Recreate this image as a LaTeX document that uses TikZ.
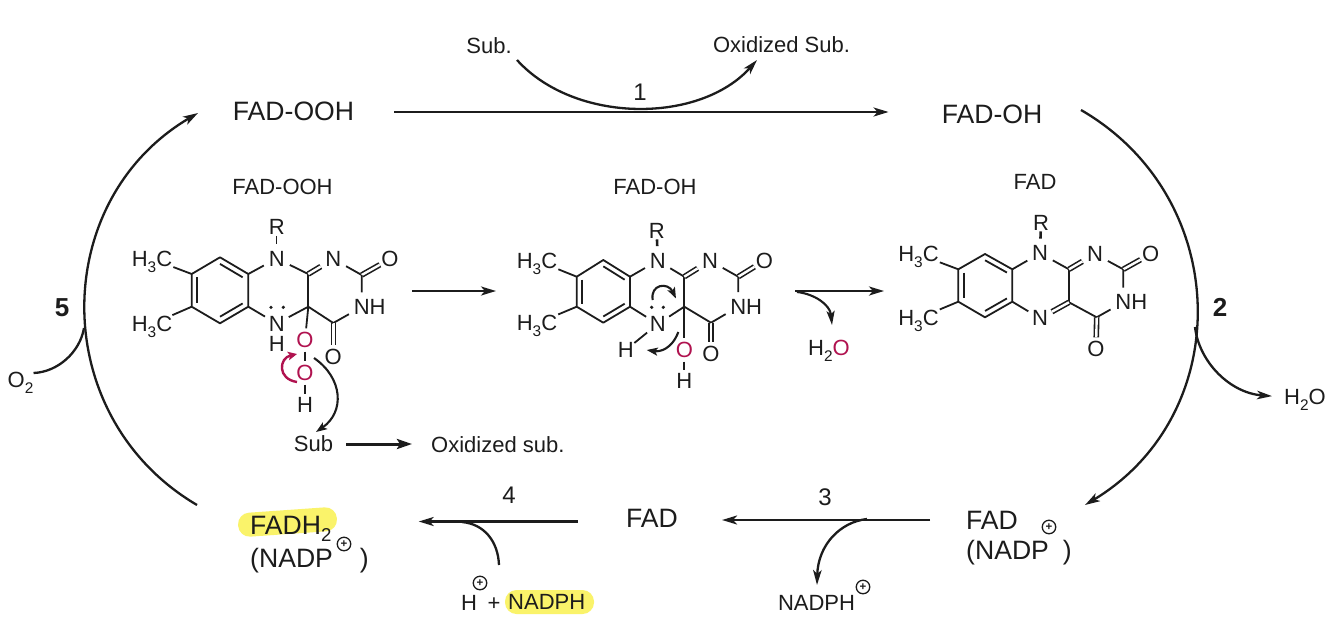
\documentclass[tikz,border=0pt]{standalone}
\usepackage{fontspec}
\setmainfont{Liberation Sans}
\usetikzlibrary{arrows.meta,calc}
\definecolor{ink}{HTML}{1C1C1C}
\definecolor{oxred}{HTML}{B0124F}
\definecolor{hilite}{HTML}{FAF36A}
\newcommand\subs[1]{\raisebox{-0.27em}{\scalebox{0.7}{#1}}}
\newcommand\fsz[1]{\fontsize{#1}{#1}\selectfont}
% bonds shared by the three flavin rings; #1 is the node-name prefix
\newcommand\flavinbonds[1]{%
  \coordinate (#1rc) at ($(#1tl)!.5!(#1br)$);
  \draw[bond] (#1tl) -- (#1top) -- (#1tr) -- (#1br) -- (#1bot) -- (#1bl) -- cycle;
  \draw[bond] ($(#1tl)!.2!(#1rc)$) -- ($(#1bl)!.2!(#1rc)$);
  \draw[bond] ($(#1top)!.2!(#1rc)$) -- ($(#1tr)!.2!(#1rc)$);
  \draw[bond] ($(#1bot)!.2!(#1rc)$) -- ($(#1br)!.2!(#1rc)$);
  \draw[bond] (#1me1) -- (#1tl);
  \draw[bond] (#1me2) -- (#1bl);
  \draw[bond] (#1tr) -- (#1nten) -- (#1cten);
  \draw[bond,shorten >=2.5pt] (#1br) -- (#1nfive);
  \draw[bond] (#1cten) -- (#1cfour);
  \draw[dbond] (#1cten) -- (#1none);
  \draw[bond] (#1none) -- (#1ctwo);
  \draw[dbond] (#1ctwo) -- (#1otwo);
  \draw[bond] (#1ctwo) -- (#1nthree) -- (#1cfc);
  \draw[dbond] (#1cfc) -- (#1ofour);
  \draw[bond] (#1cfc) -- (#1cfour);
}
\tikzset{
  x=1pt,y=-1pt,
  every node/.style={text=ink,text depth=0pt},
  big/.style={inner sep=0pt,font=\fsz{26.6}},
  small/.style={inner sep=0pt,font=\fsz{22}},
  num/.style={inner sep=0pt,font=\fsz{24}},
  boldnum/.style={inner sep=0pt,font=\fsz{26}\bfseries},
  atom/.style={circle,inner sep=2.5pt,font=\fsz{22}},
  oatom/.style={circle,inner sep=0pt,font=\fsz{22}},
  rgroup/.style={rectangle,inner sep=1pt,font=\fsz{22}},
  methyl/.style={rectangle,inner sep=1pt,font=\fsz{22}},
  plusc/.style={circle,draw=ink,line width=1.3pt,inner sep=0pt,minimum size=13.5pt,font=\fsz{11.5}\bfseries},
  bond/.style={draw=ink,line width=1.8pt,line join=round},
  dbond/.style={draw=ink,line width=1.6pt,double,double distance=2.4pt},
  tip/.style={-{Stealth[length=15pt,width=9pt,inset=4pt]}},
  arcline/.style={draw=ink,line width=2.3pt},
  arr/.style={arcline,tip},
  curly/.style={draw=ink,line width=2.1pt,-{Stealth[length=11pt,width=8pt,inset=2.5pt]}},
}
\begin{document}
\begin{tikzpicture}
\useasboundingbox (0,0) rectangle (1334,630);
\fill[white] (0,0) rectangle (1334,630);

% highlights
\fill[hilite,rounded corners=11.5pt,rotate around={4:(287.5,522)}] (238,510) rectangle (337,534);
\fill[hilite,rounded corners=11.5pt] (505,590) rectangle (594,614);

% cycle labels
\node[big] (ooh) at (293.5,111) {FAD-OOH};
\node[big] (oh) at (992,114) {FAD-OH};
\node[big] (fadm) at (652,518) {FAD};
\node[big,anchor=west] (fadr) at (966,520) {FAD};
\node[big,anchor=west] (nadpr) at (966,550) {(NADP\hspace{14pt})};
\node[plusc] (plusr) at (1049,527) {+};
\node[big,anchor=west] (fadh) at (250,525) {FADH\subs{2}};
\node[big,anchor=west] (nadpl) at (250,558) {(NADP\hspace{27pt})};
\node[plusc] (plusl) at (344,544) {+};
\node[small] (sub1) at (489,46) {Sub.};
\node[small] (oxsub1) at (781.5,45) {Oxidized Sub.};
\node[small] (hplus) at (469,603) {H};
\node[plusc] (plush) at (480,583) {+};
\node[small] (pl) at (494,604) {+};
\node[small,anchor=west] (nadph) at (508,602) {NADPH};
\node[small] (nadphb) at (816.5,603) {NADPH};
\node[plusc] (plusb) at (863,587) {+};
\node[small] (otwoext) at (20.5,380) {O\subs{2}};
\node[small] (hoext) at (1305,397) {H\subs{2}O};
\node[boldnum] (n5) at (62,308) {5};
\node[boldnum] (n2) at (1220,307) {2};
\node[num] (n1) at (640,92) {1};
\node[num] (n3) at (825,497) {3};
\node[num] (n4) at (509,495) {4};

% cycle
\draw[arr,transform canvas={yshift=-1pt}] (ooh.east) [shorten <=40pt,shorten >=53pt] -- (ooh.east -| oh.west);
\coordinate (as) at (1081,110);
\coordinate (ae) at (1085,505);
\draw[arr] (as) .. controls (1233,198) and (1236,414) .. (ae);
\coordinate (bs) at (197,505);
\coordinate (be) at (198,113);
\draw[arr] (bs) .. controls (47.5,417) and (48.5,201) .. (be);
\draw[arr] (fadr.west) [shorten <=36pt,shorten >=44pt] -- (fadr.west -| fadm.east);
\draw[arr,transform canvas={yshift=-3.5pt}] (fadm.west) [shorten <=48pt,shorten >=87pt] -- (fadm.west -| fadh.east);

% side branches
\coordinate (jt) at (1195,327);
\draw[arcline,-{Stealth[length=15pt,width=8.5pt,inset=4pt]},shorten >=12pt] (jt) .. controls (1199,362) and (1230,393) .. (hoext.west);
\coordinate (jf) at (84,328);
\draw[arcline] (otwoext.east) ++(0,-7) .. controls (58,372) and (80,352) .. (jf);
\coordinate (jc) at (867,519);
\draw[arcline,-{Stealth[length=15pt,width=8.5pt,inset=4pt]}] (jc) .. controls (840,522) and (818,545) .. (817,585);
\coordinate (jd) at (462,522);
\coordinate (je) at (499,565);
\draw[arcline] (je) .. controls (498,541) and (484,524) .. (jd);
\coordinate (cs) at (517,60);
\coordinate (ce) at (757,60);
\draw[arcline,-{Stealth[length=15pt,width=8.5pt,inset=4pt]}] (cs) .. controls (575,124) and (700,124) .. (ce);

% titles
\node[small] (t1) at (282.5,187) {FAD-OOH};
\node[small] (t2) at (655,187) {FAD-OH};
\node[small] (t3) at (1035,182) {FAD};

% ---------- FAD-OOH ----------
\coordinate (Atl) at (191.7,274);
\coordinate (Atop) at (220,257.3);
\coordinate (Atr) at (248.3,274);
\coordinate (Abr) at (248.3,306.7);
\coordinate (Abot) at (220,323.3);
\coordinate (Abl) at (191.7,306.7);
\coordinate (Acten) at (308.3,274);
\coordinate (Actwo) at (361.7,275);
\coordinate (Acfc) at (333.3,323);
\coordinate (Acfour) at (308.3,306.7);
\node[methyl] (Ame1) at (152,259) {H\subs{3}C};
\node[methyl] (Ame2) at (152,324) {H\subs{3}C};
\node[rgroup] (Ar) at (276.7,227) {R};
\node[atom] (Anten) at (276.7,258.5) {N};
\node[atom] (Anone) at (333.3,259) {N};
\node[oatom] (Aotwo) at (390,259) {O};
\node[atom] (Anthree) at (361.7,307) {N\rlap{H}};
\node[oatom] (Aofour) at (333.3,356.7) {O};
\node[oatom] (Anfive) at (276.7,323.5) {N};
\node[small] (Ah) at (276.7,343.5) {H};
\node[oatom,text=oxred] (Aoa) at (305,340) {O};
\node[oatom,text=oxred] (Aob) at (305,373) {O};
\node[oatom] (Aoh) at (305,405) {H};
\flavinbonds{A}
\draw[line width=1.3pt,draw=ink] (Ar) -- (Anten);
\draw[bond,shorten >=2.5pt] (Acfour) -- (Anfive);
\draw[bond] (Acfour) -- (Aoa);
\draw[bond] (Aoa) -- (Aob);
\draw[bond] (Aob) -- (Aoh);
\fill[ink] (271,307.3) circle (1.8) (283.3,307.3) circle (1.8);
\coordinate (rs1) at (297,382);
\coordinate (re1) at (297,354);
\draw[draw=oxred,line width=2.4pt,-{Stealth[length=9pt,width=8.5pt,inset=2pt,color=oxred]}] (rs1) .. controls (277,379) and (279,358) .. (re1);
\draw[curly] (314,358) .. controls (343,378) and (345,412) .. (316,432);
\node[small] (subm) at (313.5,444) {Sub};
\node[small,anchor=west] (oxm) at (431,445) {Oxidized sub.};
\draw[draw=ink,line width=3pt,-{Stealth[length=15pt,width=10pt,inset=3pt]}] (subm.east) [shorten <=13pt,shorten >=19pt] -- (subm.east -| oxm.west);

% ---------- FAD-OH ----------
\coordinate (Btl) at (576.7,276.7);
\coordinate (Btop) at (603.3,260);
\coordinate (Btr) at (630,276.7);
\coordinate (Bbr) at (630,306.7);
\coordinate (Bbot) at (603.3,322.7);
\coordinate (Bbl) at (576.7,306.7);
\coordinate (Bcten) at (684.3,276.7);
\coordinate (Bctwo) at (738.3,276.7);
\coordinate (Bcfc) at (711,322.7);
\coordinate (Bcfour) at (684.3,306.7);
\node[methyl] (Bme1) at (537,260.7) {H\subs{3}C};
\node[methyl] (Bme2) at (537,323.3) {H\subs{3}C};
\node[rgroup] (Br) at (656.7,230.7) {R};
\node[atom] (Bnten) at (657.7,260.7) {N};
\node[atom] (Bnone) at (710,260.7) {N};
\node[oatom] (Botwo) at (764.3,260.7) {O};
\node[atom] (Bnthree) at (738.3,306.7) {N\rlap{H}};
\node[oatom] (Bofour) at (711,354) {O};
\node[oatom] (Bnfive) at (657.7,324) {N};
\node[oatom] (Bhn) at (625.7,350) {H};
\node[oatom,text=oxred] (Boa) at (684.3,350) {O};
\node[oatom] (Boh) at (684.3,380.7) {H};
\flavinbonds{B}
\draw[draw=ink,line width=2.6pt] (Br) -- (Bnten);
\draw[bond,shorten >=2.5pt] (Bcfour) -- (Bnfive);
\draw[bond] (Bcfour) -- (Boa);
\draw[bond,shorten <=2.5pt] (Bnfive) -- (Bhn);
\draw[bond] (Boa) -- (Boh);
\fill[ink] (651.7,307.3) circle (1.8) (663.3,307.3) circle (1.8);
\draw[curly] (652.7,300) .. controls (650,284) and (668,282) .. (676,298.5);
\draw[curly] (678.3,332) .. controls (672,349) and (660,352) .. (646.7,350);

% arrows between rings
\coordinate (rs) at (412,291);
\coordinate (re) at (496,291);
\draw[arr] (rs) -- (re);
\coordinate (us) at (795,291);
\coordinate (ue) at (884,291);
\draw[arr] (us) -- (ue);
\node[small] (hom) at (829,348) {H\subs{2}\textcolor{oxred}{O}};
\coordinate (uj) at (797,292);
\draw[curly,-{Stealth[length=14pt,width=8pt,inset=3pt]}] (uj) .. controls (815,294) and (830,305) .. (832,325);

% ---------- FAD ----------
\coordinate (Ctl) at (958.3,269.3);
\coordinate (Ctop) at (985,254);
\coordinate (Ctr) at (1012.3,269.3);
\coordinate (Cbr) at (1012.3,301.7);
\coordinate (Cbot) at (985,317.3);
\coordinate (Cbl) at (958.3,301.7);
\coordinate (Ccten) at (1069,269.3);
\coordinate (Cctwo) at (1123.3,269.3);
\coordinate (Ccfc) at (1096.7,317.3);
\coordinate (Ccfour) at (1069,302.3);
\node[methyl] (Cme1) at (918.5,254.3) {H\subs{3}C};
\node[methyl] (Cme2) at (918.5,318.3) {H\subs{3}C};
\node[rgroup] (Cr) at (1041,222.7) {R};
\node[atom] (Cnten) at (1040,253.3) {N};
\node[atom] (Cnone) at (1095,254) {N};
\node[oatom] (Cotwo) at (1150.7,254) {O};
\node[atom] (Cnthree) at (1123.3,302.3) {N\rlap{H}};
\node[oatom] (Cofour) at (1096,349) {O};
\node[oatom] (Cnfive) at (1040,318.3) {N};
\flavinbonds{C}
\draw[draw=ink,line width=2.6pt] (Cr) -- (Cnten);
\draw[dbond,shorten >=2.5pt] (Ccfour) -- (Cnfive);
\end{tikzpicture}
\end{document}
